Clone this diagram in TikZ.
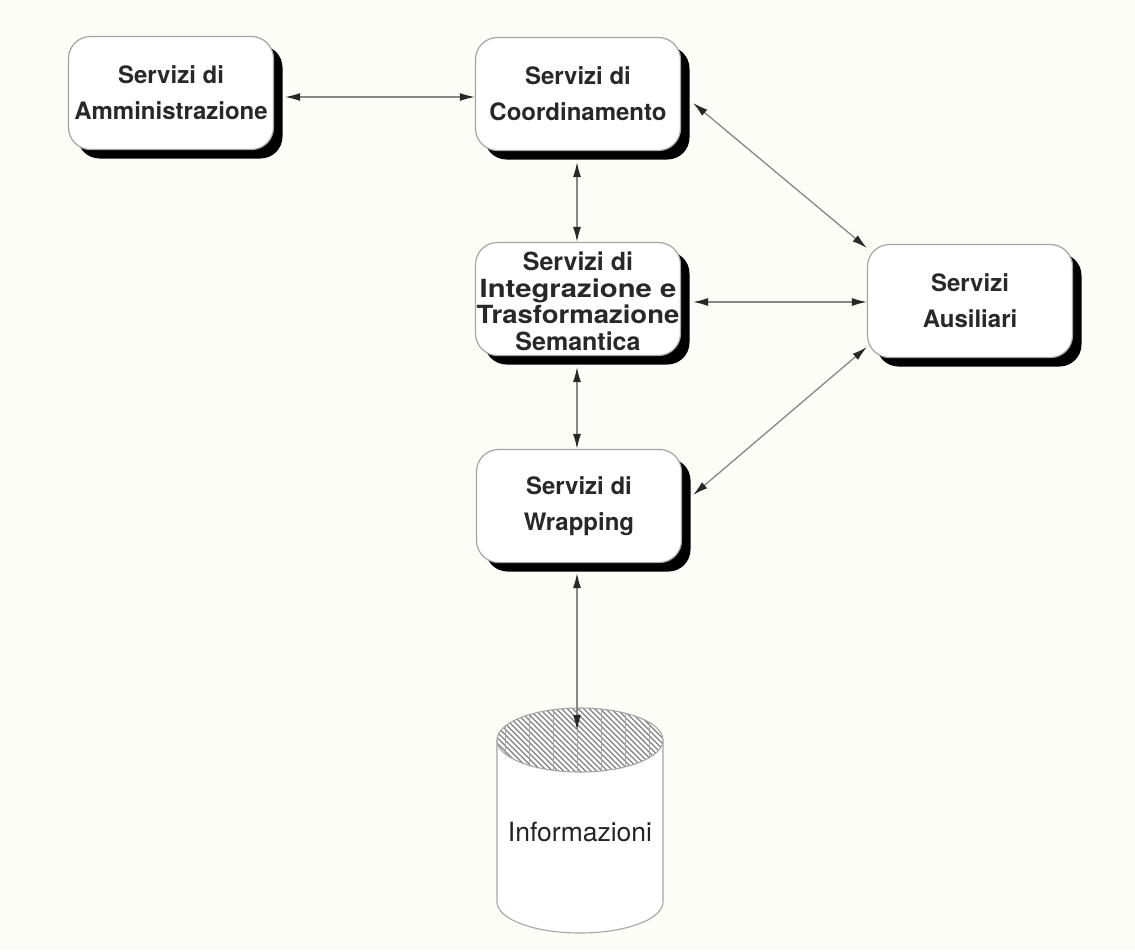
\documentclass[tikz,border=0pt]{standalone}
\usepackage{fontspec}
\setmainfont{TeX Gyre Heros}
\usetikzlibrary{arrows.meta,shadows,calc}
\definecolor{paper}{RGB}{253,253,247}
\definecolor{edge}{RGB}{165,165,165}
\definecolor{wire}{RGB}{135,135,135}
\definecolor{ink}{RGB}{40,40,40}
\definecolor{hatch}{RGB}{130,130,130}

\begin{document}
\begin{tikzpicture}[x=1pt,y=-1pt,
  svcbox/.style={draw=edge, line width=1.2pt, fill=white, rounded corners=22pt,
    minimum width=205pt, minimum height=113pt, inner sep=0pt, align=center,
    font=\fontsize{24}{36}\selectfont\bfseries, text=ink,
    drop shadow={shadow xshift=9pt, shadow yshift=-9pt, fill=black, opacity=1}},
  link/.style={draw=wire, line width=1.3pt,
    arrows={Latex[length=15pt,width=8pt,color=ink]-Latex[length=15pt,width=8pt,color=ink]}}
]
% page
\fill[paper] (0,0) rectangle (1135,951);
\useasboundingbox (0,0) rectangle (1135,951);

% service boxes
\node[svcbox] (admin) at (171,93) {Servizi di\\Amministrazione};
\node[svcbox] (coord) at (578,94) {Servizi di\\Coordinamento};
\node[svcbox, font=\fontsize{25}{26.5}\selectfont\bfseries] (integ) at (578,299)
  {\raisebox{-6pt}[\height][\depth]{\begin{tabular}{@{}c@{}}Servizi di\\\scalebox{1.17}[1]{Integrazione e}\\
   \scalebox{1.1}[1]{Trasformazione}\\Semantica\end{tabular}}};
\node[svcbox] (ausil) at (970,301) {Servizi\\Ausiliari};
\node[svcbox] (wrap) at (579,506) {Servizi di\\Wrapping};

% data store: cylinder with hatched top
\draw[edge, line width=1.1pt, fill=white]
  (497,740) -- (497,902) arc[start angle=180, end angle=0, x radius=83, y radius=31] -- (663,740);
\begin{scope}
  \clip (580,740) ellipse [x radius=83, y radius=32];
  \fill[white] (580,740) ellipse [x radius=83, y radius=32];
  \foreach \k in {0,...,52}
    \draw[hatch, line width=1.3pt] (400+\k*5.5,690) -- ++(100,100);
  \foreach \k in {0,...,7}
    \draw[hatch!70, line width=0.7pt] (505+\k*24,700) -- ++(0,90);
\end{scope}
\draw[edge, line width=1.1pt] (580,740) ellipse [x radius=83, y radius=32];
\node[font=\fontsize{26.5}{30}\selectfont, text=ink!90!black] (store) at (580,832) {Informazioni};

% connectors
\draw[link] ($(admin.east)+(11,4)$) -- ($(coord.west)+(0,3)$);
\draw[link] ($(coord.south)+(-1,11)$) -- ($(integ.north)+(-1,0)$);
\draw[link] ($(coord.east)+(12,9)$) -- ($(ausil.west)+(0,-53)$);
\draw[link] ($(integ.east)+(12,3)$) -- ($(ausil.west)+(0,1)$);
\draw[link] ($(integ.south)+(-1,11)$) -- ($(wrap.north)+(-2,0)$);
\draw[link] ($(ausil.west)+(0,46)$) -- ($(wrap.east)+(11,-11)$);
\draw[link] ($(wrap.south)+(-2,10)$) -- ($(store)+(-3,-102)$);
\end{tikzpicture}
\end{document}
